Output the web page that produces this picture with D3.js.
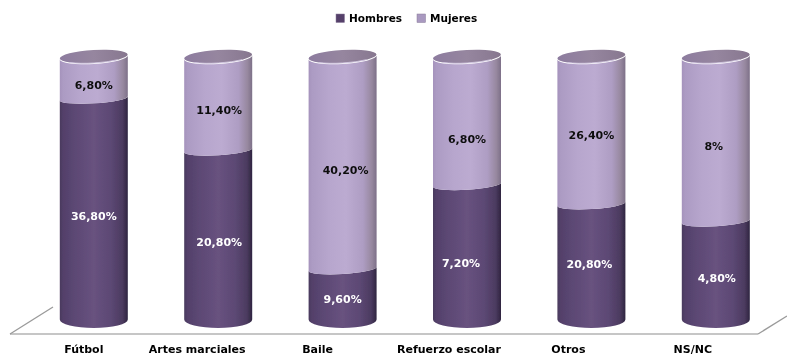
<!DOCTYPE html>
<html><head><meta charset="utf-8">
<script src="https://cdn.jsdelivr.net/npm/d3@7"></script>
<style>html,body{margin:0;padding:0;background:#fff}svg{display:block}
text{font-family:"DejaVu Sans",sans-serif;font-weight:bold}</style></head>
<body><svg id="c" width="787" height="356"></svg>
<script>
const categories=["Fútbol","Artes marciales","Baile","Refuerzo escolar","Otros","NS/NC"];
const hombres=[36.8,20.8,9.6,7.2,20.8,4.8];
const mujeres=[6.8,11.4,40.2,6.8,26.4,8];
const hombresLabels=["36,80%","20,80%","9,60%","7,20%","20,80%","4,80%"];
const mujeresLabels=["6,80%","11,40%","40,20%","6,80%","26,40%","8%"];
const seriesNames=["Hombres","Mujeres"];

const svg=d3.select("#c");
const x=d3.scaleBand().domain(categories).range([31.6,778]);
const y=d3.scaleLinear().domain([0,1]).range([319.5,57.5]);
const rx=34, ryMid=5, ryBottom=8.5, ryTop=6.5, tilt=-3.4;
const slope=Math.tan(tilt*Math.PI/180);

const defs=svg.append("defs");
function grad(id,stops){
  const g=defs.append("linearGradient").attr("id",id).attr("x1",0).attr("x2",1).attr("y1",0).attr("y2",0);
  stops.forEach(s=>g.append("stop").attr("offset",s[0]).attr("stop-color",s[1]));
}
grad("gH",[[0,"#4a3a5e"],[0.05,"#53406a"],[0.2,"#5b4773"],[0.5,"#68527f"],[0.75,"#5c4874"],[0.92,"#4c3b60"],[1,"#2f2540"]]);
grad("gM",[[0,"#a593bc"],[0.05,"#ac9bc3"],[0.3,"#b7a6cd"],[0.55,"#bcabd1"],[0.8,"#ae9dc3"],[0.93,"#97889f"],[1,"#7d7088"]]);
grad("gT",[[0,"#8d7c9f"],[0.5,"#96869f"],[1,"#87778f"]]);
const blur=(id,s)=>defs.append("filter").attr("id",id).attr("x","-10%").attr("y","-20%").attr("width","120%").attr("height","140%")
  .append("feGaussianBlur").attr("stdDeviation",s);
blur("soft",0.35); blur("softText",0.25);

// floor
const floor=svg.append("g").attr("fill","none").attr("filter","url(#softText)");
const floorLine=d3.line();
floor.append("path").attr("stroke","#b3b3b3").attr("stroke-width",1.6).attr("d",floorLine([[10,334],[758,334]]));
floor.append("path").attr("stroke","#9a9a9a").attr("stroke-width",1.3).attr("d",floorLine([[10,334],[53,307]]));
floor.append("path").attr("stroke","#9a9a9a").attr("stroke-width",1.3).attr("d",floorLine([[758,334],[787,316]]));

// a cylinder segment: curved top edge at yTop, curved bottom edge at yBottom
function seg(cx,yBottom,yTop,ryB,ryT,flat){
  const s=flat?0:slope*rx;
  return `M${cx-rx},${yTop-slope*rx}A${rx},${ryT} ${tilt} 0 0 ${cx+rx},${yTop+slope*rx}`+
         `L${cx+rx},${yBottom+s}A${rx},${ryB} ${flat?0:tilt} 0 1 ${cx-rx},${yBottom-s}Z`;
}
const hDy=[7,7,5,11,2,8], hDx=[0,1,0,-6,-2,1];
const mDy=[7,6,7,18,4,7], mDx=[0,1,3,0,0,-2];
const cols=svg.selectAll("g.col").data(categories.map((c,i)=>({c,i,h:hombres[i],m:mujeres[i]})))
  .join("g").attr("class","col");
cols.each(function(d){
  const g=d3.select(this), cx=x(d.c)+x.bandwidth()/2;
  const total=d.h+d.m, yMid=y(d.h/total), y0=y(0), y1=y(1);
  const c=g.append("g").attr("filter","url(#soft)");
  c.append("path").attr("d",seg(cx,y0,yMid,ryBottom,ryMid,true)).attr("fill","url(#gH)");
  c.append("path").attr("d",seg(cx,yMid,y1,ryMid,ryTop,false)).attr("fill","url(#gM)");
  c.append("ellipse").attr("cx",cx).attr("cy",y1-1).attr("rx",rx).attr("ry",ryTop)
    .attr("transform",`rotate(${tilt} ${cx} ${y1})`).attr("fill","url(#gT)");
  const hy=y1-1+ryTop*0.707;
  c.append("path").attr("fill","none").attr("stroke","#d3c7e2").attr("stroke-width",0.9)
    .attr("d",`M${cx-24},${hy-slope*24}A${rx},${ryTop} ${tilt} 0 0 ${cx+24},${hy+slope*24}`);
  const t=g.append("g").attr("filter","url(#softText)");
  t.append("text").attr("x",cx+hDx[d.i]).attr("y",(y0+yMid)/2+hDy[d.i]).attr("dy","0.35em").attr("text-anchor","middle")
    .attr("font-size",11).attr("fill","#fff").text(hombresLabels[d.i]);
  t.append("text").attr("x",cx+mDx[d.i]).attr("y",(yMid+y1)/2+mDy[d.i]).attr("dy","0.35em").attr("text-anchor","middle")
    .attr("font-size",11).attr("fill","#111").text(mujeresLabels[d.i]);
});

// axis labels (sit slightly left of their cylinders in the reference)
const labelShift=[-10,-21,-25,-18,-23,-23];
const axis=d3.axisBottom(x).tickSize(0).tickPadding(0);
const ax=svg.append("g").attr("transform","translate(0,345)").attr("filter","url(#softText)").call(axis);
ax.select(".domain").remove();
ax.selectAll("text").attr("font-size",11).attr("fill","#000").style("font-family",'"DejaVu Sans",sans-serif').style("font-weight","bold");
ax.selectAll(".tick").attr("transform",(d,i)=>`translate(${x(d)+x.bandwidth()/2+labelShift[i]},0)`);

// legend
const lg=svg.append("g").attr("filter","url(#softText)");
[[336,349,"#54416b"],[417,430,"#a999c0"]].forEach((l,i)=>{
  lg.append("rect").attr("x",l[0]).attr("y",14).attr("width",8.5).attr("height",8.5).attr("fill",l[2]).attr("stroke","#8a7d99").attr("stroke-width",0.5);
  lg.append("text").attr("x",l[1]).attr("y",22).attr("font-size",10.5).attr("fill","#000").text(seriesNames[i]);
});
</script></body></html>
